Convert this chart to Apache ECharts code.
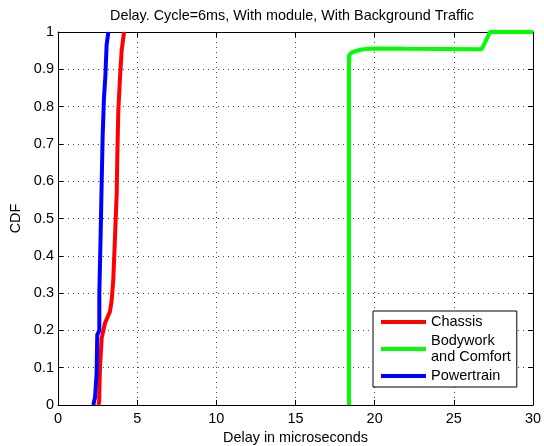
<!DOCTYPE html>
<html>
<head>
<meta charset="utf-8">
<script src="https://cdn.jsdelivr.net/npm/echarts@6/dist/echarts.min.js"></script>
<style>
  html, body { margin: 0; padding: 0; background: #fff; }
  #chart { width: 544px; height: 446px; }
</style>
</head>
<body>
<div id="chart"></div>
<script>
// CDF curves: delay (microseconds) and cumulative fraction
var chassisDelay = [2.55, 2.6, 2.65, 2.76, 2.97, 3.28, 3.39, 3.49, 3.6, 3.71, 3.75, 3.81, 3.92, 4.02, 4.17]
var chassisCdf = [0, 0.01, 0.1, 0.18, 0.22, 0.25, 0.28, 0.335, 0.45, 0.57, 0.675, 0.79, 0.88, 0.95, 1]

var bodyDelay = [18.38, 18.38, 18.5, 18.66, 19.0, 19.29, 19.92, 22.0, 26.76, 27.0, 27.29, 30]
var bodyCdf = [0, 0.937, 0.943, 0.947, 0.951, 0.954, 0.956, 0.955, 0.954, 0.975, 1, 1]

var powerDelay = [2.23, 2.34, 2.44, 2.48, 2.61, 2.61, 2.69, 2.76, 2.82, 2.9, 2.99, 3.07, 3.18]
var powerCdf = [0, 0.02, 0.085, 0.188, 0.2, 0.3, 0.45, 0.6, 0.72, 0.82, 0.88, 0.965, 1]

var seriesNames = ['Chassis', 'Bodywork\nand Comfort', 'Powertrain']
var seriesColors = ['#ff0000', '#00ff00', '#0000ff']

function pairs(xs, ys) {
  return xs.map(function (x, i) { return [x, ys[i]] })
}

var font = 'Liberation Sans, Arial, sans-serif'
var chart = echarts.init(document.getElementById('chart'))

// frame axes on top / right only carry the inward ticks
var frameTick = { show: true, inside: true, length: 5, lineStyle: { color: '#000' } }
var gridLine = { show: true, lineStyle: { color: '#444', type: [1, 4], width: 1 } }

var option = {
  animation: false,
  textStyle: { fontFamily: font },
  title: {
    text: 'Delay. Cycle=6ms, With module, With Background Traffic',
    left: 105,
    top: 4,
    textStyle: { fontSize: 14.4, fontWeight: 'normal', color: '#000', fontFamily: font },
  },
  grid: { left: 58, right: 11, top: 32, bottom: 41, outerBoundsMode: 'none' },
  legend: {
    orient: 'vertical',
    left: 373,
    top: 311,
    padding: [3, 6, 3, 8],
    itemGap: 3,
    itemWidth: 45,
    itemHeight: 4,
    icon: 'rect',
    borderColor: '#000',
    borderWidth: 1,
    backgroundColor: '#fff',
    textStyle: { fontSize: 14.5, lineHeight: 16, color: '#000', fontFamily: font },
    data: seriesNames,
  },
  xAxis: [
    {
      type: 'value',
      min: 0,
      max: 30,
      interval: 5,
      name: 'Delay in microseconds',
      nameLocation: 'middle',
      nameGap: 25,
      nameTextStyle: { fontSize: 14.4, color: '#000' },
      axisLine: { lineStyle: { color: '#000' } },
      axisTick: frameTick,
      axisLabel: { fontSize: 14.5, color: '#000', margin: 6 },
      splitLine: gridLine,
    },
    {
      type: 'value',
      position: 'top',
      min: 0,
      max: 30,
      interval: 5,
      axisLine: { show: true, onZero: false, lineStyle: { color: '#000' } },
      axisTick: frameTick,
      axisLabel: { show: false },
      splitLine: { show: false },
    },
  ],
  yAxis: [
    {
      type: 'value',
      min: 0,
      max: 1,
      interval: 0.1,
      name: 'CDF',
      nameLocation: 'middle',
      nameGap: 33,
      nameTextStyle: { fontSize: 14.4, color: '#000' },
      axisLine: { show: true, lineStyle: { color: '#000' } },
      axisTick: frameTick,
      axisLabel: { fontSize: 14.5, color: '#000', margin: 4 },
      splitLine: gridLine,
    },
    {
      type: 'value',
      position: 'right',
      min: 0,
      max: 1,
      interval: 0.1,
      axisLine: { show: true, onZero: false, lineStyle: { color: '#000' } },
      axisTick: frameTick,
      axisLabel: { show: false },
      splitLine: { show: false },
    },
  ],
  series: [
    pairs(chassisDelay, chassisCdf),
    pairs(bodyDelay, bodyCdf),
    pairs(powerDelay, powerCdf),
  ].map(function (d, i) {
    return {
      name: seriesNames[i],
      type: 'line',
      data: d,
      symbol: 'none',
      color: seriesColors[i],
      lineStyle: { width: 4, color: seriesColors[i] },
    }
  }),
}

chart.setOption(option)
</script>
</body>
</html>
